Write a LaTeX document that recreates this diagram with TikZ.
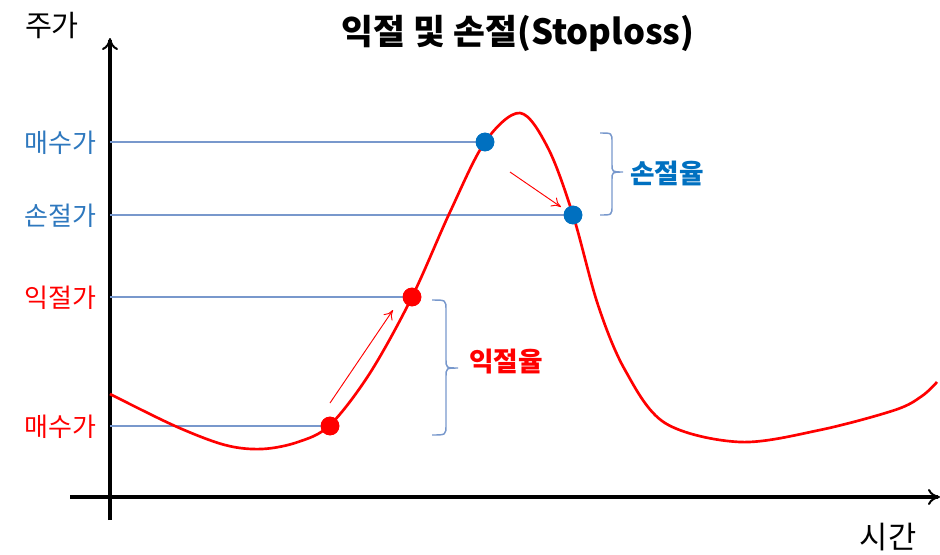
\documentclass[tikz,border=0pt]{standalone}
\usepackage{fontspec}
\setmainfont{Noto Sans CJK KR}
\usetikzlibrary{arrows.meta}
\definecolor{guide}{RGB}{120,152,204}
\definecolor{bluetxt}{RGB}{46,120,190}
\definecolor{bluedot}{RGB}{0,112,192}
\definecolor{myred}{RGB}{255,0,0}
\tikzset{
  axis/.style={line width=2.6pt, -{To[length=9pt,width=12pt,line width=1.5pt]}},
  guideline/.style={guide, line width=0.9pt},
  dotb/.style={circle, fill=bluedot, inner sep=0pt, minimum size=14pt},
  dotr/.style={circle, fill=myred, inner sep=0pt, minimum size=14pt},
  lbl/.style={font=\fontsize{19.5}{22}\selectfont, anchor=east, inner sep=0pt},
  ratelbl/.style={font=\bfseries\fontsize{20}{22}\selectfont, anchor=west, inner sep=0pt},
  movearrow/.style={myred, line width=0.7pt, -{To[length=7pt,width=8pt]}},
  bracestyle/.style={guide, line width=1.1pt},
}
\begin{document}
\begin{tikzpicture}[x=0.75pt,y=-0.75pt]
\useasboundingbox (0,0) rectangle (940,554);
% axes
\coordinate (ybot) at (110,520);
\coordinate (ytop) at (110,38);
\coordinate (xl) at (70,497);
\coordinate (xr) at (940,497);
\draw[axis] (ybot) -- (ytop);
\draw[axis] (xl) -- (xr);
\node[font=\fontsize{22}{24}\selectfont, inner sep=0pt] (yl) at (52,25) {주가};
\node[font=\fontsize{23}{25}\selectfont, inner sep=0pt] (xlab) at (888,537) {시간};
\node[font=\bfseries\fontsize{26}{28}\selectfont, inner sep=0pt] (title) at (518,33) {익절 및 손절(Stoploss)};
% points
\node[dotb] (b1) at (485,142) {};
\node[dotb] (b2) at (573,215) {};
\node[dotr] (r1) at (412,297) {};
\node[dotr] (r2) at (330,426) {};
\coordinate (a1) at (110,142);
\coordinate (a2) at (110,215);
\coordinate (a3) at (110,297);
\coordinate (a4) at (110,426);
\draw[guideline] (a1) -- (b1.center);
\draw[guideline] (a2) -- (b2.center);
\draw[guideline] (a3) -- (r1.center);
\draw[guideline] (a4) -- (r2.center);
% left labels
\node[lbl, text=bluetxt] (l1) at (97,143) {매수가};
\node[lbl, text=bluetxt] (l2) at (97,216) {손절가};
\node[lbl, text=myred] (l3) at (97,298) {익절가};
\node[lbl, text=myred] (l4) at (97,427) {매수가};
% curve
\draw[myred, line width=2pt] plot[smooth, tension=0.55] coordinates {
 (110,394) (175,426) (225,445) (262,449) (298,442) (330,425) (370,373) (412,297)
 (450,212) (485,142) (520,113) (548,148) (573,215) (598,305) (625,370)
 (665,423) (740,442) (820,430) (895,410) (922,396) (937,382)};
\node[dotb] at (b1) {};
\node[dotb] at (b2) {};
\node[dotr] at (r1) {};
\node[dotr] at (r2) {};
% move arrows
\coordinate (m1s) at (330,403);
\coordinate (m1e) at (393,310);
\coordinate (m2s) at (510,172);
\coordinate (m2e) at (561,207);
\draw[movearrow] (m1s) -- (m1e);
\draw[movearrow] (m2s) -- (m2e);
% braces
\coordinate (br1t) at (600,133);
\coordinate (br1m) at (623,172);
\coordinate (br1b) at (600,215);
\draw[bracestyle] (br1t) .. controls (612,133) .. (612,142) -- (612,164)
  .. controls (612,172) .. (br1m) .. controls (612,172) .. (612,180) -- (612,206)
  .. controls (612,215) .. (br1b);
\coordinate (br2t) at (432,300);
\coordinate (br2m) at (458,368);
\coordinate (br2b) at (432,435);
\draw[bracestyle] (br2t) .. controls (446,300) .. (446,310) -- (446,359)
  .. controls (446,368) .. (br2m) .. controls (446,368) .. (446,377) -- (446,425)
  .. controls (446,435) .. (br2b);
\node[ratelbl, text=bluedot] (son) at (630,173) {손절율};
\node[ratelbl, text=myred] (ik) at (469,362) {익절율};
\end{tikzpicture}
\end{document}
